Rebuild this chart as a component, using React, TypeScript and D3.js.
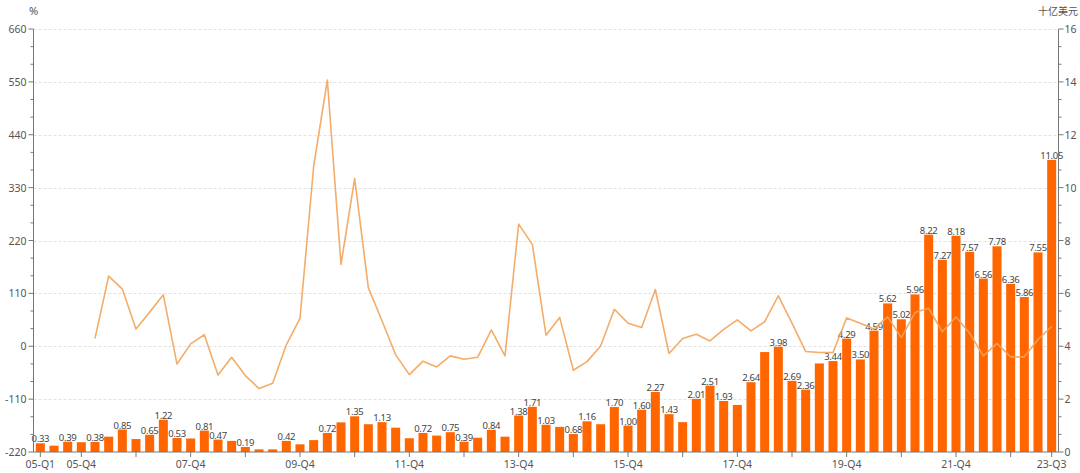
import React from "react";
import * as d3 from "d3";

const categories: string[] = [
  "05-Q1","05-Q2","05-Q3","05-Q4","06-Q1","06-Q2","06-Q3","06-Q4",
  "07-Q1","07-Q2","07-Q3","07-Q4","08-Q1","08-Q2","08-Q3","08-Q4",
  "09-Q1","09-Q2","09-Q3","09-Q4","10-Q1","10-Q2","10-Q3","10-Q4",
  "11-Q1","11-Q2","11-Q3","11-Q4","12-Q1","12-Q2","12-Q3","12-Q4",
  "13-Q1","13-Q2","13-Q3","13-Q4","14-Q1","14-Q2","14-Q3","14-Q4",
  "15-Q1","15-Q2","15-Q3","15-Q4","16-Q1","16-Q2","16-Q3","16-Q4",
  "17-Q1","17-Q2","17-Q3","17-Q4","18-Q1","18-Q2","18-Q3","18-Q4",
  "19-Q1","19-Q2","19-Q3","19-Q4","20-Q1","20-Q2","20-Q3","20-Q4",
  "21-Q1","21-Q2","21-Q3","21-Q4","22-Q1","22-Q2","22-Q3","22-Q4",
  "23-Q1","23-Q2","23-Q3",
];

// Amount (十亿美元), right axis
const barValues: number[] = [
  0.33, 0.24, 0.39, 0.37, 0.38, 0.58, 0.85, 0.49,
  0.65, 1.22, 0.53, 0.51, 0.81, 0.47, 0.42, 0.19,
  0.10, 0.10, 0.42, 0.29, 0.45, 0.72, 1.12, 1.35,
  1.05, 1.13, 0.92, 0.52, 0.72, 0.62, 0.75, 0.39,
  0.54, 0.84, 0.58, 1.38, 1.71, 1.03, 0.95, 0.68,
  1.16, 1.05, 1.70, 1.00, 1.60, 2.27, 1.43, 1.13,
  2.01, 2.51, 1.93, 1.78, 2.64, 3.78, 3.98, 2.69,
  2.36, 3.35, 3.44, 4.29, 3.50, 4.59, 5.62, 5.02,
  5.96, 8.22, 7.27, 8.18, 7.57, 6.56, 7.78, 6.36,
  5.86, 7.55, 11.05,
];

// Which bars carry a value label
const labeledBars: number[] = [
  0, 2, 4, 6, 8, 9, 10, 12, 13, 15, 18, 21, 23, 25, 28, 30, 31, 33, 35, 36,
  37, 39, 40, 42, 43, 44, 45, 46, 48, 49, 50, 52, 54, 55, 56, 58, 59, 60, 61,
  62, 63, 64, 65, 66, 67, 68, 69, 70, 71, 72, 73, 74,
];

// YoY growth (%), left axis
const yoyValues: (number | null)[] = [
  null, null, null, null, 16.5, 146, 119, 36,
  71, 107, -37, 5, 24, -60, -23, -61,
  -88, -77, 3, 58, 374, 554, 170, 349,
  122, 53, -18, -59, -31, -43, -20, -27,
  -23, 34, -20, 254, 212, 23, 60, -50,
  -32, 0.5, 77, 48, 39, 118, -15, 16,
  25, 11, 35, 55, 32, 51, 105, 48,
  -11, -13, -13, 59, 48, 36, 61, 18,
  70, 79, 30, 61, 27, -20, 6, -22,
  -22, 14, 41,
];

const leftTicks: number[] = [-220, -110, 0, 110, 220, 330, 440, 550, 660];
const rightTicks: number[] = [0, 2, 4, 6, 8, 10, 12, 14, 16];
const xLabelIdx: number[] = [0, 3, 11, 19, 27, 35, 43, 51, 59, 67, 74];

const W = 1080;
const H = 473;
const X0 = 33.5;
const X1 = 1058.5;
const YT = 29;
const YB = 452;

const FONT = "'Noto Sans', 'Noto Sans CJK SC', sans-serif";

export default function App() {
  const x = d3
    .scaleBand<string>()
    .domain(categories)
    .range([X0, X1])
    .paddingInner(0.34)
    .paddingOuter(0.17);
  const yL = d3.scaleLinear().domain([-220, 660]).range([YB, YT]);
  const yR = d3.scaleLinear().domain([0, 16]).range([YB, YT]);
  const bw = x.bandwidth();
  const cx = (i: number) => (x(categories[i]) as number) + bw / 2;

  const line = d3
    .line<number | null>()
    .defined((d) => d !== null)
    .x((_, i) => cx(i))
    .y((d) => yL(d as number));

  const step = (YB - YT) / 8;
  const minor: number[] = [];
  for (let k = 0; k < 8; k++) {
    minor.push(YT + k * step + step / 3, YT + k * step + (2 * step) / 3);
  }

  const xTickIdx: number[] = [0];
  for (let i = 3; i < categories.length; i += 4) xTickIdx.push(i);
  xTickIdx.push(74);

  return (
    <div style={{ position: "absolute", left: 0, top: 0 }}>
      <svg width={W} height={H} style={{ display: "block", fontFamily: FONT }}>
        <rect x={0} y={0} width={W} height={H} fill="#fff" />
        {/* grid */}
        {leftTicks
          .filter((t) => t !== -220)
          .map((t) => (
            <line
              key={"g" + t}
              x1={X0}
              x2={X1}
              y1={Math.round(yL(t)) + 0.5}
              y2={Math.round(yL(t)) + 0.5}
              stroke="#e2e2e2"
              strokeDasharray="3,2"
            />
          ))}
        {/* bars */}
        {barValues.map((v, i) => (
          <rect
            key={"b" + i}
            x={x(categories[i])}
            y={yR(v)}
            width={bw}
            height={YB - yR(v)}
            fill="#ff6600"
          />
        ))}
        {/* bar labels */}
        {labeledBars.map((i) => (
          <text
            key={"l" + i}
            x={cx(i)}
            y={yR(barValues[i]) - 1}
            textAnchor="middle"
            fontSize={9.5}
            letterSpacing={-0.3}
            fill="#444"
          >
            {barValues[i].toFixed(2)}
          </text>
        ))}
        {/* line */}
        <path
          d={line(yoyValues) || ""}
          fill="none"
          stroke="#f2a35a"
          strokeOpacity={0.9}
          strokeWidth={1.6}
          strokeLinejoin="round"
        />
        {/* left axis */}
        <line x1={X0} x2={X0} y1={YT} y2={YB} stroke="#777" />
        {leftTicks.map((t) => (
          <g key={"lt" + t}>
            <line x1={X0 - 5} x2={X0} y1={yL(t)} y2={yL(t)} stroke="#777" />
            <text x={X0 - 7} y={yL(t) + 4} textAnchor="end" fontSize={10.5} fill="#555">
              {t}
            </text>
          </g>
        ))}
        {minor.map((m, k) => (
          <g key={"mn" + k}>
            <line x1={X0 - 3} x2={X0} y1={m} y2={m} stroke="#777" />
            <line x1={X1} x2={X1 + 3} y1={m} y2={m} stroke="#777" />
          </g>
        ))}
        <text x={29} y={15} fontSize={11} fill="#555">%</text>
        {/* right axis */}
        <line x1={X1} x2={X1} y1={YT} y2={YB} stroke="#777" />
        {rightTicks.map((t) => (
          <g key={"rt" + t}>
            <line x1={X1} x2={X1 + 5} y1={yR(t)} y2={yR(t)} stroke="#777" />
            <text x={X1 + 6} y={yR(t) + 4} textAnchor="start" fontSize={10.5} fill="#555">
              {t}
            </text>
          </g>
        ))}
        <text x={1078} y={15} textAnchor="end" fontSize={10} fill="#555">
          十亿美元
        </text>
        {/* x axis */}
        <line x1={X0} x2={X1} y1={YB} y2={YB} stroke="#777" />
        {xTickIdx.map((i, k) => (
          <line key={"xt" + k} x1={cx(i)} x2={cx(i)} y1={YB} y2={YB + 5} stroke="#777" />
        ))}
        {xLabelIdx.map((i) => (
          <text key={"xl" + i} x={cx(i)} y={468} textAnchor="middle" fontSize={10.5} fill="#555">
            {categories[i]}
          </text>
        ))}
      </svg>
    </div>
  );
}
